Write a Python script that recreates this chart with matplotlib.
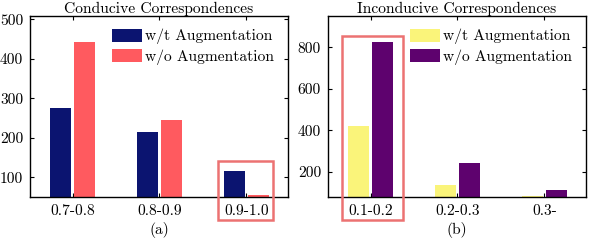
import matplotlib
matplotlib.use("Agg")
import matplotlib.pyplot as plt
import numpy as np
from matplotlib.patches import Rectangle

plt.rcParams['font.family'] = ['cmr10', 'DejaVu Serif']
plt.rcParams['axes.formatter.use_mathtext'] = True
plt.rcParams['mathtext.fontset'] = 'cm'

cats_a = ["0.7-0.8", "0.8-0.9", "0.9-1.0"]
with_a = [274, 214, 115]
without_a = [443, 246, 54]

cats_b = ["0.1-0.2", "0.2-0.3", "0.3-"]
with_b = [419, 136, 87]
without_b = [823, 242, 116]

yticks_a = [100, 200, 300, 400, 500]
yticks_b = [200, 400, 600, 800]

fig = plt.figure(figsize=(5.9, 2.4), dpi=100)
W, H = 590, 240
axA = fig.add_axes([30 / W, (H - 197) / H, 258 / W, 181 / H])
axB = fig.add_axes([328 / W, (H - 197) / H, 258 / W, 181 / H])

bw = 0.245
off = 0.14
fs = 11.2


def draw(ax, cats, v1, v2, c1, c2, ylim, yticks, title, sub):
    x = np.arange(len(cats))
    ax.bar(x - off, v1, bw, color=c1, label="w/t Augmentation", zorder=2)
    ax.bar(x + off, v2, bw, color=c2, label="w/o Augmentation", zorder=2)
    ax.set_ylim(*ylim)
    ax.set_xlim(-0.49, 2.48)
    ax.set_xticks(x)
    ax.set_xticklabels(cats, fontsize=fs)
    ax.set_yticks(yticks)
    ax.set_yticklabels([str(t) for t in yticks], fontsize=fs)
    ax.tick_params(direction='in', top=True, right=True, length=3, width=0.8, pad=5)
    for s in ax.spines.values():
        s.set_linewidth(1.0)
    ax.set_title(title, fontsize=fs, pad=2)
    ax.set_xlabel(sub, fontsize=fs, labelpad=3)
    ax.legend(loc='upper right', frameon=False, fontsize=fs, handlelength=1.95,
              handleheight=0.92, handletextpad=0.2, labelspacing=0.27,
              borderaxespad=0.0, bbox_to_anchor=(0.97, 0.965))


draw(axA, cats_a, with_a, without_a, '#0B1470', '#FF5A5F', (50, 508), yticks_a,
     "Conducive Correspondences", "(a)")
draw(axB, cats_b, with_b, without_b, '#FAF47A', '#5E026E', (80, 950), yticks_b,
     "Inconducive Correspondences", "(b)")

# highlight boxes (figure pixel coords converted)
box_col = '#EC7272'
for (x0, y0, x1, y1) in [(218, 161, 273, 220), (342, 36, 403, 220)]:
    fig.patches.append(Rectangle((x0 / W, 1 - y1 / H), (x1 - x0) / W, (y1 - y0) / H,
                                 transform=fig.transFigure, fill=False,
                                 edgecolor=box_col, linewidth=1.8, zorder=10))

fig.savefig("out.png", dpi=100)
